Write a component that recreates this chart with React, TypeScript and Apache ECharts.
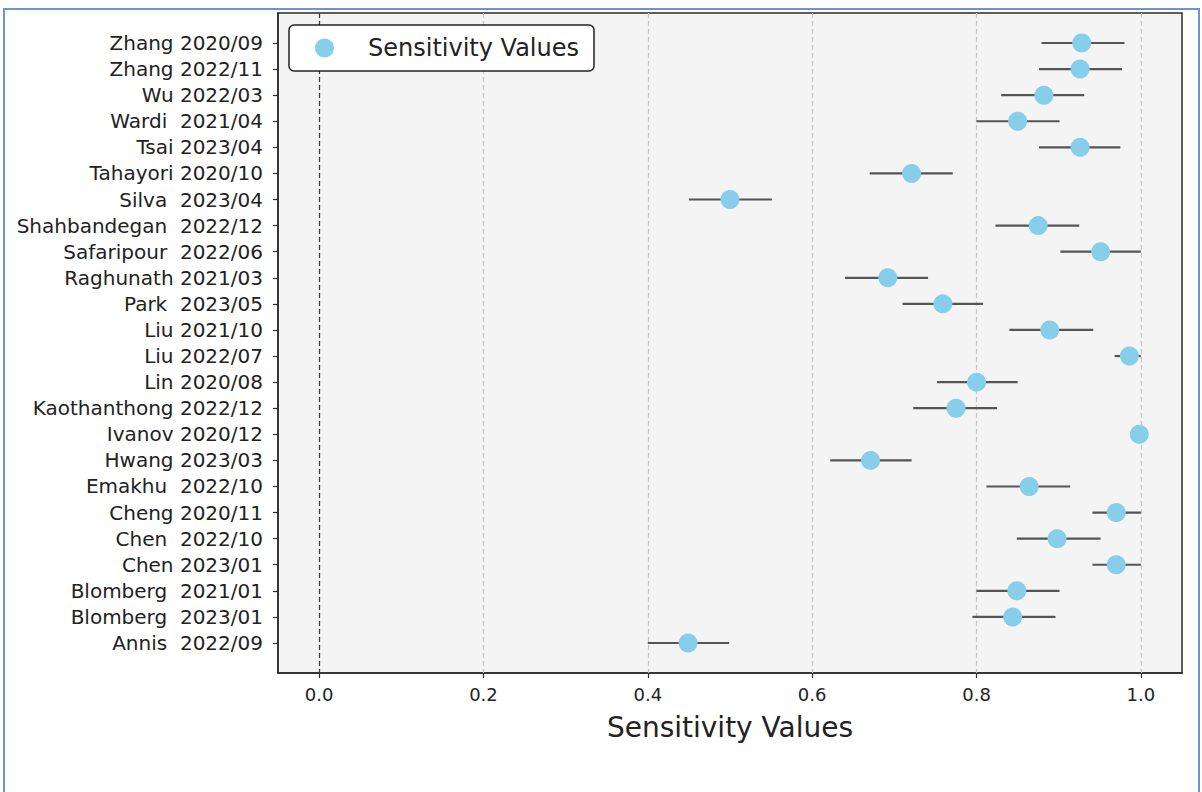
import React, { useEffect, useRef } from "react";
import * as echarts from "echarts";

const studies = [
  "Zhang 2020/09",
  "Zhang 2022/11",
  "Wu 2022/03",
  "Wardi  2021/04",
  "Tsai 2023/04",
  "Tahayori 2020/10",
  "Silva  2023/04",
  "Shahbandegan  2022/12",
  "Safaripour  2022/06",
  "Raghunath 2021/03",
  "Park  2023/05",
  "Liu 2021/10",
  "Liu 2022/07",
  "Lin 2020/08",
  "Kaothanthong 2022/12",
  "Ivanov 2020/12",
  "Hwang 2023/03",
  "Emakhu  2022/10",
  "Cheng 2020/11",
  "Chen  2022/10",
  "Chen 2023/01",
  "Blomberg  2021/01",
  "Blomberg  2023/01",
  "Annis  2022/09",
];

const sensitivity = [
  0.928, 0.926, 0.882, 0.85, 0.926, 0.721, 0.5, 0.875, 0.951, 0.692, 0.759, 0.889,
  0.986, 0.8, 0.775, 0.998, 0.671, 0.864, 0.97, 0.898, 0.97, 0.849, 0.844, 0.449,
];

const lowerCI = [
  0.879, 0.876, 0.83, 0.8, 0.876, 0.67, 0.45, 0.823, 0.902, 0.64, 0.71, 0.84,
  0.968, 0.752, 0.723, 0.99, 0.622, 0.812, 0.941, 0.849, 0.941, 0.8, 0.795, 0.4,
];

const upperCI = [
  0.98, 0.977, 0.931, 0.901, 0.975, 0.771, 0.551, 0.925, 1.0, 0.741, 0.808, 0.942,
  1.0, 0.85, 0.825, 1.0, 0.721, 0.914, 1.0, 0.951, 1.0, 0.901, 0.896, 0.499,
];

const xTicks = [0, 0.2, 0.4, 0.6, 0.8, 1.0];
const gridTicks = [0.2, 0.4, 0.6, 0.8, 1.0];

const seriesName = "Sensitivity Values";
const axisTitle = "Sensitivity Values";

const FONT = "DejaVu Sans";

export default function App() {
  const ref = useRef<HTMLDivElement>(null);

  useEffect(() => {
    if (!ref.current) return;
    const chart = echarts.init(ref.current, undefined, { renderer: "svg" });
    const idx = studies.map((_, i) => i);

    const option: any = {
      animation: false,
      backgroundColor: "#ffffff",
      textStyle: { fontFamily: FONT },
      grid: {
        left: 278,
        top: 13,
        width: 904,
        height: 660,
        show: true,
        backgroundColor: "#f4f4f4",
        borderColor: "#2a2a2a",
        borderWidth: 1.5,
        containLabel: false,
      },
      legend: {
        show: true,
        left: 289,
        top: 25,
        orient: "horizontal",
        data: [{ name: seriesName, icon: "circle" }],
        itemWidth: 19,
        itemHeight: 19,
        padding: [11, 15, 11, 26],
        backgroundColor: "#ffffff",
        borderColor: "#222222",
        borderWidth: 1.5,
        borderRadius: 5,
        textStyle: {
          fontFamily: FONT,
          fontSize: 24,
          color: "#222222",
          padding: [0, 0, 0, 29],
        },
        selectedMode: false,
      },
      xAxis: {
        type: "value",
        min: -0.05,
        max: 1.05,
        name: axisTitle,
        nameLocation: "middle",
        nameGap: 40,
        nameTextStyle: { fontFamily: FONT, fontSize: 28, color: "#222222" },
        axisLine: { show: true, onZero: false, lineStyle: { color: "#2a2a2a", width: 1.5 } },
        axisTick: {
          show: true,
          customValues: xTicks,
          length: 5,
          lineStyle: { color: "#2a2a2a", width: 1.2 },
        },
        axisLabel: {
          customValues: xTicks,
          formatter: (v: number) => v.toFixed(1),
          fontFamily: FONT,
          fontSize: 18,
          color: "#222222",
          margin: 12,
        },
        splitLine: { show: false },
      },
      yAxis: {
        type: "value",
        inverse: true,
        min: -1.15,
        max: 24.15,
        axisLine: { show: true, onZero: false, lineStyle: { color: "#2a2a2a", width: 1.5 } },
        axisTick: {
          show: true,
          customValues: idx,
          length: 5,
          lineStyle: { color: "#2a2a2a", width: 1.2 },
        },
        axisLabel: {
          customValues: idx,
          formatter: (v: number) => studies[Math.round(v)] ?? "",
          fontFamily: FONT,
          fontSize: 20,
          color: "#222222",
          margin: 15,
        },
        splitLine: { show: false },
      },
      series: [
        {
          name: "gridlines",
          type: "line",
          data: [],
          silent: true,
          z: 1,
          markLine: {
            silent: true,
            symbol: ["none", "none"],
            z: 1,
            label: { show: false },
            data: [
              ...gridTicks.map((v) => ({
                xAxis: v,
                lineStyle: { color: "#c4c4c4", width: 1.2, type: [5, 3] },
              })),
              {
                xAxis: 0,
                lineStyle: { color: "#3c3c3c", width: 1.3, type: [5, 3] },
              },
            ],
          },
        },
        {
          name: "CI",
          type: "custom",
          z: 2,
          silent: true,
          data: idx.map((i) => [lowerCI[i], upperCI[i], i]),
          encode: { x: [0, 1], y: 2 },
          renderItem: (params: any, api: any) => {
            const p1 = api.coord([api.value(0), api.value(2)]);
            const p2 = api.coord([api.value(1), api.value(2)]);
            return {
              type: "line",
              shape: { x1: p1[0], y1: p1[1], x2: p2[0], y2: p2[1] },
              style: { stroke: "#555555", lineWidth: 2.2 },
            };
          },
        },
        {
          name: seriesName,
          type: "scatter",
          z: 3,
          symbol: "circle",
          symbolSize: 19,
          itemStyle: { color: "#87ceeb", opacity: 1 },
          data: idx.map((i) => [sensitivity[i], i]),
        },
      ],
      graphic: [
        {
          type: "rect",
          silent: true,
          shape: { x: 4, y: 9, width: 1195, height: 800 },
          style: { fill: "none", stroke: "#6f93cf", lineWidth: 2 },
          z: 100,
        },
      ],
    };

    chart.setOption(option);
    return () => chart.dispose();
  }, []);

  return (
    <div
      ref={ref}
      style={{
        position: "fixed",
        left: 0,
        top: 0,
        width: 1202,
        height: 792,
        background: "#ffffff",
      }}
    />
  );
}
